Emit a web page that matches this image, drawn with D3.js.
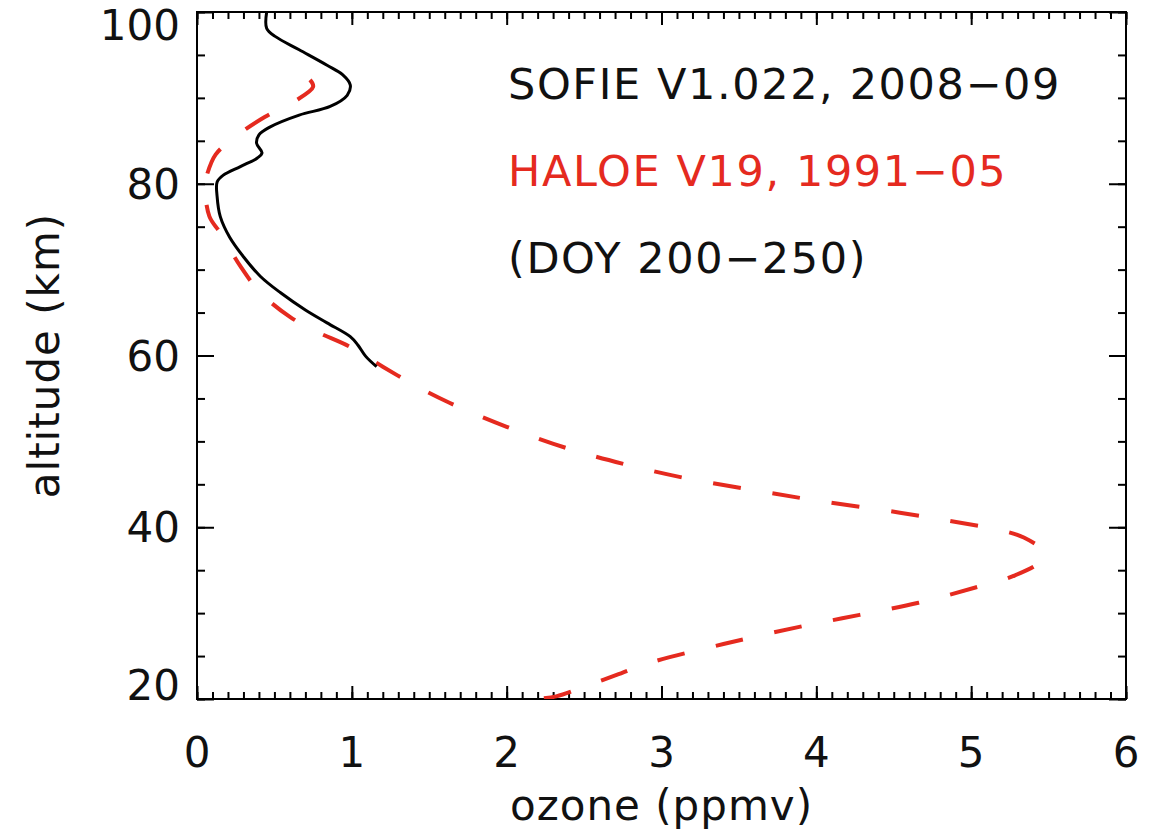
<!DOCTYPE html>
<html>
<head>
<meta charset="utf-8">
<script src="https://cdn.jsdelivr.net/npm/d3@7"></script>
<style>
  body { margin: 0; background: #fff; }
  text { font-family: "DejaVu Sans", sans-serif; }
</style>
</head>
<body>
<div id="chart"></div>
<script>
const width = 1157, height = 838;
const margin = {top: 12, right: 31, bottom: 139, left: 197};

// SOFIE V1.022 profile (altitude km, ozone ppmv)
const sofieAlt = [100, 98.1, 97.1, 95.6, 93.8, 92.7, 91.5, 90.3, 89.0, 88.0, 86.6, 85.7, 84.7, 83.6, 83.0, 82.0, 81.0, 80.2, 78.5, 76.2, 73.8, 71.5, 69.2, 67.3, 65.3, 63.8, 62.2, 61.2, 59.9, 58.7];
const sofieO3 = [0.45, 0.45, 0.51, 0.66, 0.84, 0.94, 0.99, 0.97, 0.86, 0.66, 0.47, 0.40, 0.385, 0.42, 0.39, 0.28, 0.17, 0.13, 0.13, 0.15, 0.21, 0.30, 0.41, 0.54, 0.70, 0.84, 0.99, 1.04, 1.09, 1.16];

// HALOE V19 profile
const haloeAlt = [92.1, 91.3, 89.6, 87.8, 85.9, 83.4, 80.8, 80.1, 76.2, 74.3, 70.4, 67.3, 64.5, 62.8, 61.0, 58.7, 56.4, 54.5, 51.7, 49.2, 47.3, 45.7, 44.4, 43.2, 41.7, 40.5, 39.7, 38.8, 37.1, 35.9, 34.3, 33.1, 31.2, 29.8, 28.4, 26.4, 24.2, 22.8, 21.7, 20.3, 20.0];
const haloeO3 = [0.73, 0.75, 0.63, 0.44, 0.28, 0.12, 0.06, 0.05, 0.08, 0.15, 0.28, 0.41, 0.60, 0.77, 0.99, 1.20, 1.42, 1.63, 2.0, 2.39, 2.77, 3.16, 3.57, 3.97, 4.54, 4.94, 5.18, 5.34, 5.47, 5.44, 5.27, 5.05, 4.66, 4.28, 3.89, 3.40, 2.92, 2.71, 2.54, 2.32, 2.19];

const xTicks = [0, 1, 2, 3, 4, 5, 6];
const yTicks = [20, 40, 60, 80, 100];
const legendLines = ["SOFIE V1.022, 2008\u221209", "HALOE V19, 1991\u221205", "(DOY 200\u2212250)"];

const red = "#e52a1f";
const innerW = width - margin.left - margin.right;
const innerH = height - margin.top - margin.bottom;

const x = d3.scaleLinear().domain([0, 6]).range([0, innerW]);
const y = d3.scaleLinear().domain([20, 100]).range([innerH, 0]);

const svg = d3.select("#chart").append("svg")
  .attr("width", width).attr("height", height);
const g = svg.append("g").attr("transform", `translate(${margin.left},${margin.top})`);

g.append("clipPath").attr("id", "clip")
  .append("rect").attr("width", innerW).attr("height", innerH);

// minor and major ticks, pointing inward on all four sides
const xMinor = d3.range(0, 6.001, 0.1);
const yMinor = d3.range(20, 100.001, 5);

function ticks(axis, values, size, tr) {
  const a = g.append("g").attr("transform", tr)
    .call(axis.tickValues(values).tickSize(size).tickFormat(""));
  a.select(".domain").remove();
  a.selectAll("line").attr("stroke", "#000").attr("stroke-width", 2);
}
ticks(d3.axisBottom(x), xMinor, -7, `translate(0,${innerH})`);
ticks(d3.axisBottom(x), xTicks, -13, `translate(0,${innerH})`);
ticks(d3.axisTop(x), xMinor, -7, "translate(0,0)");
ticks(d3.axisTop(x), xTicks, -13, "translate(0,0)");
ticks(d3.axisLeft(y), yMinor, -8, "translate(0,0)");
ticks(d3.axisLeft(y), yTicks, -17, "translate(0,0)");
ticks(d3.axisRight(y), yMinor, -8, `translate(${innerW},0)`);
ticks(d3.axisRight(y), yTicks, -17, `translate(${innerW},0)`);

// frame
g.append("rect").attr("width", innerW).attr("height", innerH)
  .attr("fill", "none").attr("stroke", "#000").attr("stroke-width", 2);

// tick labels
g.selectAll(".xl").data(xTicks).join("text")
  .attr("x", d => x(d)).attr("y", innerH + 68)
  .attr("text-anchor", "middle").attr("font-size", 42).attr("fill", "#111")
  .text(d => d);
g.selectAll(".yl").data(yTicks).join("text")
  .attr("x", -17).attr("y", d => Math.min(Math.max(y(d), 13), innerH - 14))
  .attr("dy", "0.36em")
  .attr("text-anchor", "end").attr("font-size", 42).attr("fill", "#111")
  .text(d => d);

// axis titles
g.append("text").attr("x", innerW / 2).attr("y", innerH + 121)
  .attr("text-anchor", "middle").attr("font-size", 42).attr("fill", "#111")
  .attr("letter-spacing", 1)
  .text("ozone (ppmv)");
svg.append("text")
  .attr("transform", `translate(59,${margin.top + innerH / 2}) rotate(-90)`)
  .attr("text-anchor", "middle").attr("font-size", 42).attr("fill", "#111")
  .attr("letter-spacing", 1)
  .text("altitude (km)");

// profiles
const line = d3.line()
  .x(d => x(d[0])).y(d => y(d[1]))
  .curve(d3.curveCatmullRom.alpha(0.5));

const plot = g.append("g").attr("clip-path", "url(#clip)");
plot.append("path")
  .datum(d3.zip(haloeO3, haloeAlt))
  .attr("d", line).attr("fill", "none")
  .attr("stroke", red).attr("stroke-width", 4)
  .attr("stroke-dasharray", "28,32");
plot.append("path")
  .datum(d3.zip(sofieO3, sofieAlt))
  .attr("d", line).attr("fill", "none")
  .attr("stroke", "#000").attr("stroke-width", 3);

// legend text
g.selectAll(".leg").data(legendLines).join("text")
  .attr("x", 311).attr("y", (d, i) => 87 + i * 87)
  .attr("font-size", 43).attr("letter-spacing", 1.6)
  .attr("fill", (d, i) => i === 1 ? red : "#111")
  .text(d => d);
</script>
</body>
</html>
